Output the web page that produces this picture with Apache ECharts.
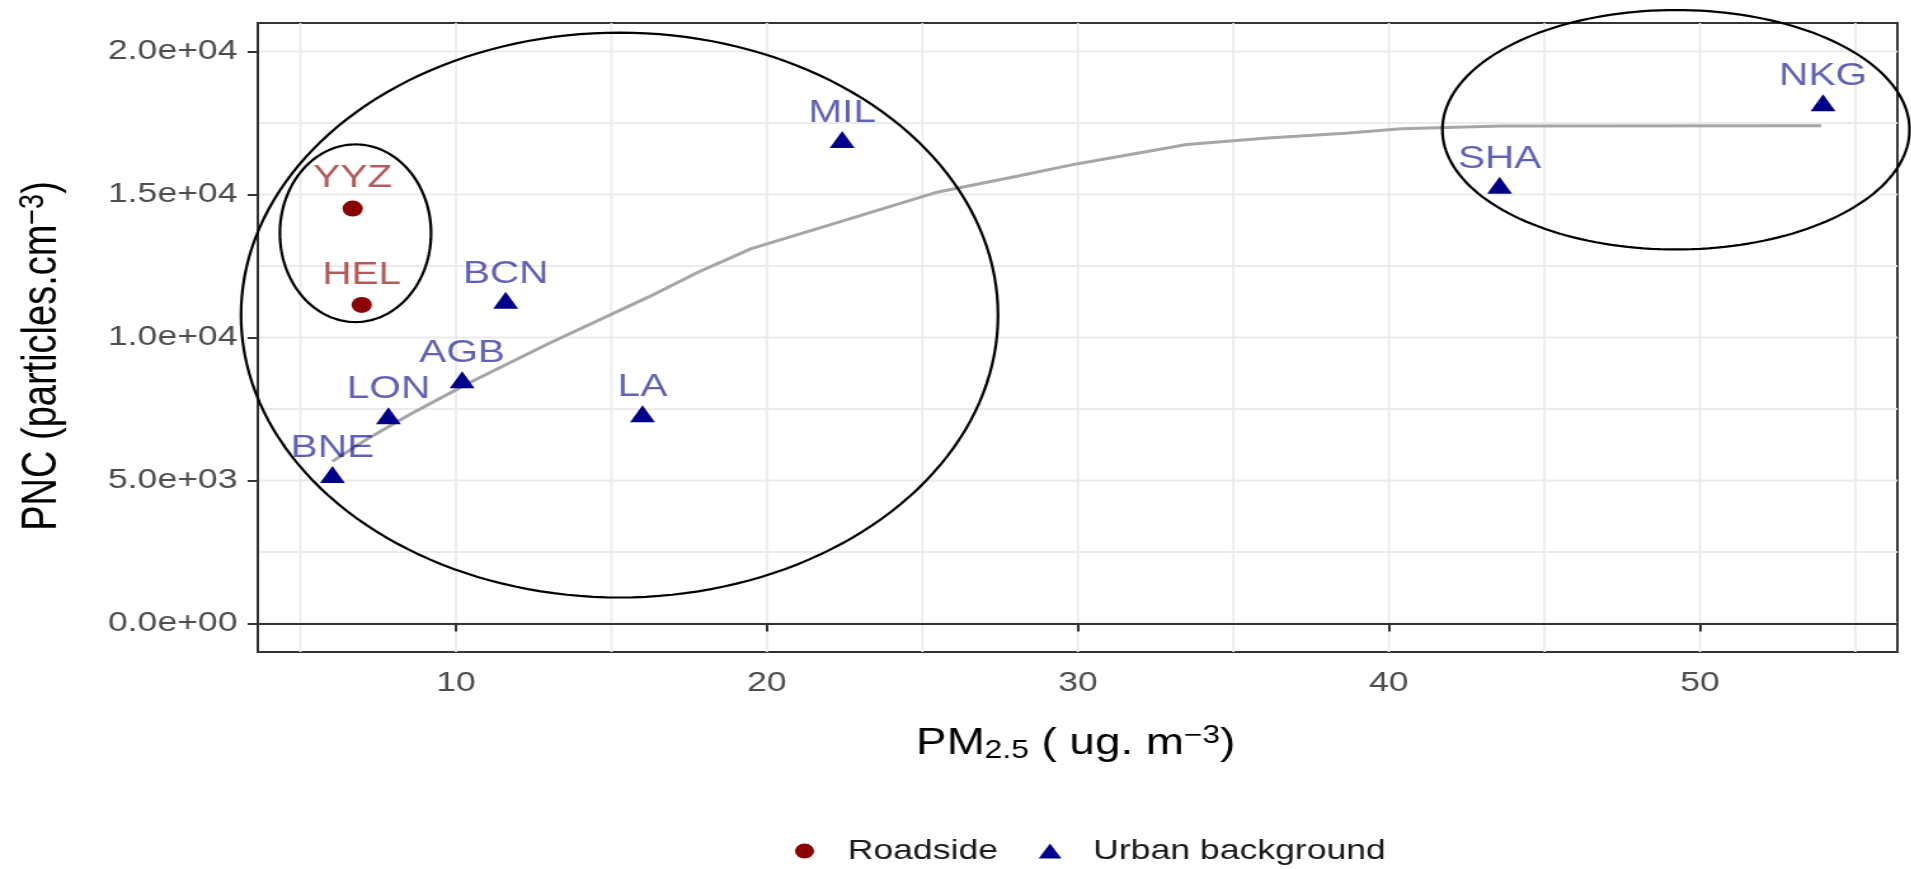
<!DOCTYPE html>
<html>
<head>
<meta charset="utf-8">
<script src="https://cdn.jsdelivr.net/npm/echarts@6/dist/echarts.min.js"></script>
<style>
html,body{margin:0;padding:0;background:#fff;overflow:hidden;width:1911px;height:869px;}
#chart{width:1505px;height:869px;transform:scaleX(1.27);transform-origin:0 0;}
</style>
</head>
<body>
<div id="chart"></div>
<script>
// ---- data ----
const roadNames = ['YYZ', 'HEL'];
const roadX = [6.68, 6.97];
const roadY = [14510, 11140];

const urbanNames = ['BNE', 'LON', 'AGB', 'BCN', 'LA', 'MIL', 'SHA', 'NKG'];
const urbanX = [6.03, 7.83, 10.2, 11.6, 16.0, 22.42, 43.56, 53.96];
const urbanY = [5100, 7160, 8420, 11200, 7230, 16820, 15220, 18110];

const curveX = [6.03, 7.1, 8.5, 10.4, 13.0, 16.2, 17.8, 19.5, 22.5, 25.5, 28.0, 30.0, 33.5, 36.0, 38.7, 40.4, 43.6, 53.9];
const curveY = [5670, 6420, 7300, 8400, 9800, 11420, 12290, 13110, 14100, 15090, 15630, 16080, 16750, 16970, 17150, 17300, 17400, 17410];

const ellipseCx = [15.26, 6.77, 49.23];
const ellipseCy = [10785, 13647, 17267];
const ellipseRx = [12.17, 2.43, 7.51];
const ellipseRy = [9878, 3106, 4188];

const xTicks = [10, 20, 30, 40, 50];
const xMinor = [5, 15, 25, 35, 45, 55];
const yTicks = [0, 5000, 10000, 15000, 20000];
const yMinor = [2500, 7500, 12500, 17500];

const legendNames = ['Roadside', 'Urban background'];

// ---- chart ----
const FONT = '"Liberation Sans", Arial, sans-serif';

function sci(v) {
  const s = Number(v).toExponential(1);
  return s.replace(/e([+-])(\d)$/, function (m, sg, d) { return 'e' + sg + '0' + d; });
}

const chart = echarts.init(document.getElementById('chart'), null, {renderer: 'canvas'});

function richTitle(size) {
  return {
    m: {fontSize: size, lineHeight: size + 4, fontFamily: FONT, fill: '#000'},
    sub: {fontSize: Math.round(size * 0.7), lineHeight: Math.round(size * 0.83), fontFamily: FONT, fill: '#000', verticalAlign: 'bottom'},
    sup: {fontSize: Math.round(size * 0.7), lineHeight: Math.round(size * 0.5), fontFamily: FONT, fill: '#000', verticalAlign: 'top'}
  };
}

const option = {
  animation: false,
  backgroundColor: '#ffffff',
  textStyle: {fontFamily: FONT},
  grid: {
    left: 203, right: 11, top: 23, bottom: 217,
    show: true, borderColor: '#333333', borderWidth: 2,
    backgroundColor: 'transparent', containLabel: false, outerBoundsMode: 'none'
  },
  xAxis: {
    type: 'value', min: 3.63, max: 56.35,
    axisLine: {show: true, lineStyle: {color: '#333333', width: 2}},
    splitLine: {show: false},
    axisTick: {show: true, customValues: xTicks, length: 8, lineStyle: {color: '#333333', width: 2}},
    axisLabel: {customValues: xTicks, margin: 17, fontSize: 28, color: '#4d4d4d', fontFamily: FONT}
  },
  yAxis: {
    type: 'value', min: -1000, max: 21000,
    axisLine: {show: true, lineStyle: {color: '#333333', width: 2}},
    splitLine: {show: false},
    axisTick: {show: true, customValues: yTicks, length: 8, lineStyle: {color: '#333333', width: 2}},
    axisLabel: {customValues: yTicks, margin: 16, fontSize: 28, color: '#4d4d4d', fontFamily: FONT, formatter: sci}
  },
  legend: {
    data: legendNames, left: 626, top: 837, padding: 0,
    itemWidth: 18, itemHeight: 15, itemGap: 32, selectedMode: false,
    textStyle: {fontSize: 28, color: '#1a1a1a', fontFamily: FONT, padding: [0, 0, 0, 20]}
  },
  graphic: [
    {
      type: 'text', x: 847, y: 744, silent: true,
      style: {
        text: '{m|PM}{sub|2.5}{m| ( ug. m}{sup|\u22123}{m|)}',
        rich: richTitle(36), align: 'center', verticalAlign: 'middle'
      }
    },
    {
      type: 'text', x: 34, y: 356, rotation: Math.PI / 2, silent: true,
      style: {
        text: '{m|PNC (particles.cm}{sup|\u22123}{m|)}',
        rich: richTitle(38), align: 'center', verticalAlign: 'middle'
      }
    }
  ],
  series: [
    {
      type: 'custom', name: 'vgrid', silent: true, z: 0,
      data: xMinor.concat(xTicks).map(function (v) { return [v, 0]; }),
      encode: {x: 0, y: 1},
      renderItem: function (params, api) {
        const cs = params.coordSys;
        const x = api.coord([api.value(0), 0])[0];
        return {type: 'line', shape: {x1: x, y1: cs.y, x2: x, y2: cs.y + cs.height},
          style: {stroke: '#ebebeb', lineWidth: 1.7}, silent: true};
      }
    },
    {
      type: 'custom', name: 'hgrid', silent: true, z: 0,
      data: yMinor.concat(yTicks).map(function (v) { return [10, v]; }),
      encode: {x: 0, y: 1},
      renderItem: function (params, api) {
        const cs = params.coordSys;
        const y = api.coord([10, api.value(1)])[1];
        return {type: 'line', shape: {x1: cs.x, y1: y, x2: cs.x + cs.width, y2: y},
          style: {stroke: '#ebebeb', lineWidth: 2}, silent: true};
      }
    },
    {
      type: 'line', name: 'fit', silent: true, z: 3,
      data: curveX.map(function (x, i) { return [x, curveY[i]]; }),
      symbol: 'none', showSymbol: false, smooth: false,
      lineStyle: {color: '#a6a6a6', width: 3}
    },
    {
      type: 'scatter', name: 'Roadside', z: 4, silent: true,
      symbol: 'circle', symbolSize: 16,
      itemStyle: {color: '#8b0000', opacity: 1},
      data: roadNames.map(function (n, i) { return {name: n, value: [roadX[i], roadY[i]]}; }),
      label: {show: true, formatter: '{b}', position: 'top', distance: 6,
        fontSize: 32, fontFamily: FONT, color: 'rgba(139,0,0,0.65)'}
    },
    {
      type: 'scatter', name: 'Urban background', z: 4, silent: true,
      symbol: 'triangle', symbolSize: [19.6, 17], symbolOffset: [0, -3],
      itemStyle: {color: '#00008b', opacity: 1},
      data: urbanNames.map(function (n, i) { return {name: n, value: [urbanX[i], urbanY[i]]}; }),
      label: {show: true, formatter: '{b}', position: 'top', distance: 2,
        fontSize: 32, fontFamily: FONT, color: 'rgba(0,0,139,0.62)'}
    },
    {
      type: 'custom', name: 'ellipses', silent: true, z: 5, clip: false,
      data: ellipseCx.map(function (c, i) { return [c, ellipseCy[i], ellipseRx[i], ellipseRy[i]]; }),
      encode: {x: 0, y: 1},
      renderItem: function (params, api) {
        const c = api.coord([api.value(0), api.value(1)]);
        const s = api.size([api.value(2), api.value(3)]);
        const pts = [];
        const N = 180;
        for (let k = 0; k < N; k++) {
          const t = 2 * Math.PI * k / N;
          pts.push([c[0] + s[0] * Math.cos(t), c[1] + s[1] * Math.sin(t)]);
        }
        return {type: 'polygon', shape: {points: pts},
          style: {fill: 'none', stroke: '#000000', lineWidth: 2.2}, silent: true};
      }
    }
  ]
};

chart.setOption(option);
</script>
</body>
</html>
